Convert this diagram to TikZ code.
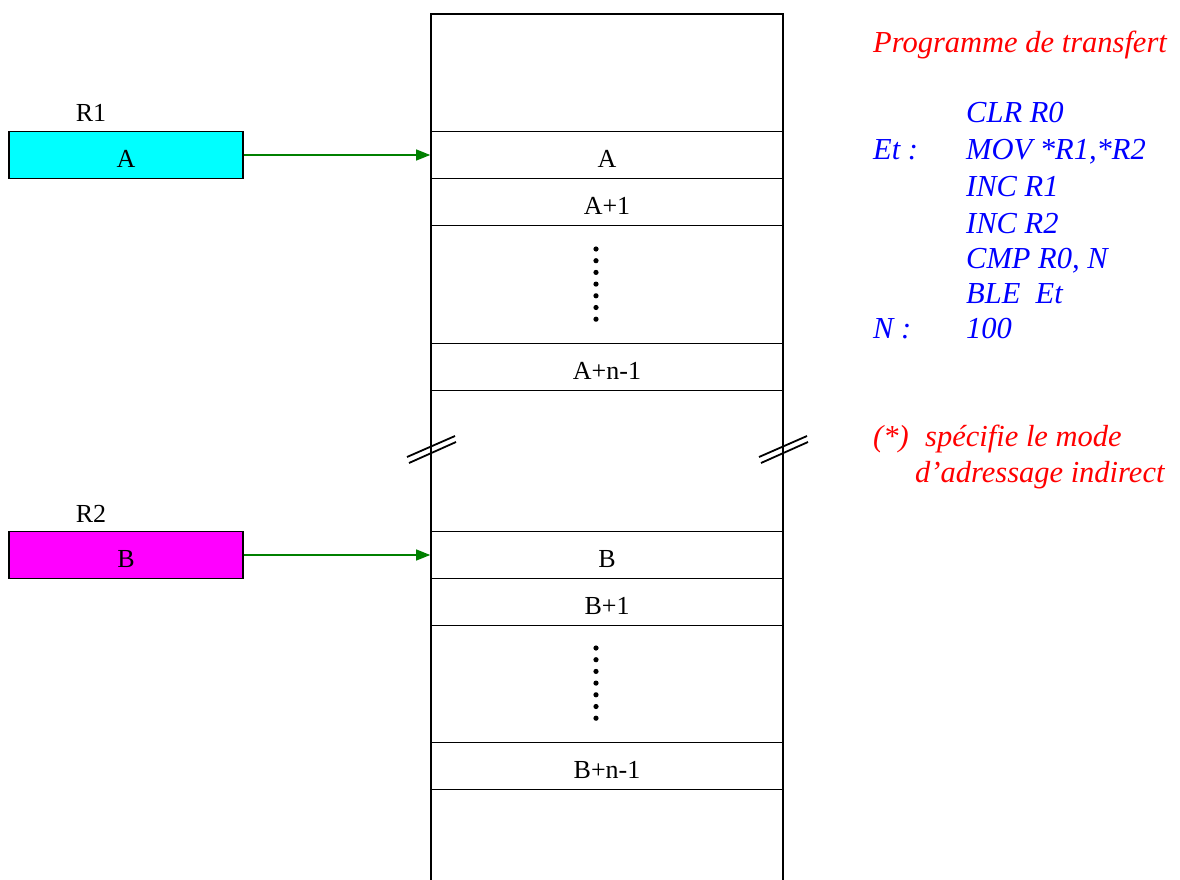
\documentclass[tikz,border=0pt]{standalone}
\usepackage{fontspec}
\setmainfont{Liberation Serif}
\usetikzlibrary{arrows.meta}
\definecolor{regcyan}{RGB}{0,255,255}
\definecolor{regmag}{RGB}{255,0,255}
\definecolor{arrgreen}{RGB}{0,128,0}
\definecolor{codeblue}{RGB}{0,0,255}
\definecolor{notered}{RGB}{255,0,0}
\newcommand\bigtext{\fontsize{26}{30}\selectfont}
\newcommand\codetext{\fontsize{30.5}{35}\selectfont\itshape}
\tikzset{
  cell/.style={draw, line width=1.6pt, minimum width=352pt, minimum height=47pt, inner sep=0pt, text height=25pt, text depth=0pt},
  reg/.style={draw, line width=1.6pt, minimum width=234pt, minimum height=47pt, inner sep=0pt, text height=25pt, text depth=0pt},
  ptr/.style={draw=arrgreen, line width=1.2pt, -{Triangle[length=14pt,width=11pt]}},
  code/.style={anchor=base west, inner sep=0pt, text=codeblue, font=\codetext},
  note/.style={anchor=base west, inner sep=0pt, text=notered, font=\codetext},
}
\begin{document}
\begin{tikzpicture}[x=1pt,y=-1pt,font=\bigtext]
  \useasboundingbox (0,0) rectangle (1180,880);
  % memory column
  \draw[line width=1.6pt] (431,880) -- (431,14) -- (783,14) -- (783,880);
  \node[cell] (a0) at (607,155) {A};
  \node[cell] (a1) at (607,202) {A+1};
  \node[cell] (an) at (607,367) {A+n-1};
  \node[cell] (b0) at (607,555) {B};
  \node[cell] (b1) at (607,602) {B+1};
  \node[cell] (bn) at (607,766) {B+n-1};
  \foreach \i in {0,...,6} {
    \fill (596,249+\i*11.7) circle (2.6);
    \fill (596,648+\i*11.7) circle (2.6);
  }
  % break marks
  \foreach \x in {431,783} {
    \draw[line width=1.8pt] (\x-24,457) -- (\x+24,436);
    \draw[line width=1.8pt] (\x-22,463) -- (\x+25,442);
  }
  % registers
  \node[anchor=base] (r1lab) at (91,122) {R1};
  \node[reg, fill=regcyan] (r1) at (126,155) {A};
  \node[anchor=base] (r2lab) at (91,522) {R2};
  \node[reg, fill=regmag] (r2) at (126,555) {B};
  \draw[ptr] (r1) -- (a0);
  \draw[ptr] (r2) -- (b0);
  % program
  \node[note] (title) at (873,53) {Programme de transfert};
  \node[code] (c1) at (966,123) {CLR R0};
  \node[code] (l1) at (873,160) {Et :};
  \node[code] (c2) at (966,160) {MOV *R1,*R2};
  \node[code] (c3) at (966,196) {INC R1};
  \node[code] (c4) at (966,233) {INC R2};
  \node[code] (c5) at (966,268) {CMP R0, N};
  \node[code] (c6) at (966,303) {BLE\ \ Et};
  \node[code] (l2) at (873,338) {N :};
  \node[code] (c7) at (966,338) {100};
  \node[note] (n1) at (873,446) {(*)};
  \node[note] (n2) at (925,446) {spécifie le mode};
  \node[note] (n3) at (915,482) {d’adressage indirect};
\end{tikzpicture}
\end{document}
